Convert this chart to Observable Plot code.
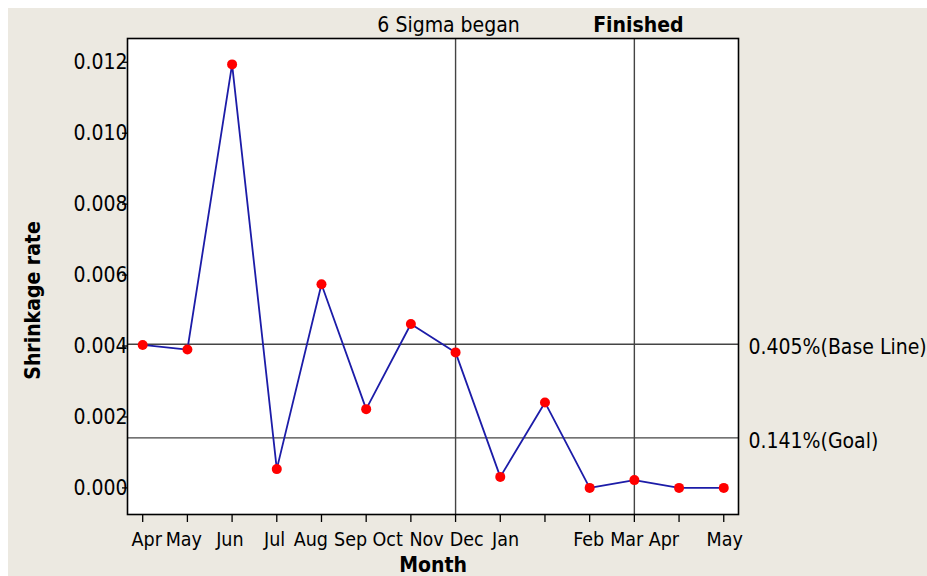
<!DOCTYPE html>
<html>
<head>
<meta charset="utf-8">
<script src="https://cdn.jsdelivr.net/npm/d3@7"></script>
<script src="https://cdn.jsdelivr.net/npm/@observablehq/plot@0.6"></script>
<style>
  html, body { margin: 0; padding: 0; background: #ffffff; }
  #chart { padding: 8px 0 0 8px; width: 919px; height: 568px; }
  #chart svg { display: block; }
</style>
</head>
<body>
<div id="chart"></div>
<script>
// Data
const months = ["Apr","May","Jun","Jul","Aug","Sep","Oct","Nov","Dec","Jan","Feb","Mar","Apr","May"];
const rates = [0.00403, 0.00390, 0.01194, 0.00053, 0.00574, 0.00222, 0.00462, 0.00382, 0.00031, 0.00241, 0.00000, 0.00022, 0.00000, 0.00000];

// Tick labels as drawn (offset from ticks in the original)
const tickLabels = ["Apr","May","Jun","Jul","Aug","Sep","Oct","Nov","Dec","Jan","Feb","Mar","Apr","May"];
const tickLabelPos = [0.09, 0.92, 1.95, 2.95, 3.76, 4.65, 5.48, 6.35, 7.25, 8.12, 9.98, 10.83, 11.66, 13.02];

const yTicks = [0, 0.002, 0.004, 0.006, 0.008, 0.010, 0.012];

// Reference lines
const baseLine = 0.00405;
const goalLine = 0.00141;
const hLines = [baseLine, goalLine];
const hLineLabels = ["0.405%(Base Line)", "0.141%(Goal)"];
const sigmaBeganIdx = 7;
const finishedIdx = 11;

const series = months.map((m, i) => ({i, month: m, rate: rates[i]}));
const xLabels = tickLabels.map((t, k) => ({pos: tickLabelPos[k], text: t}));

const font = "'DejaVu Sans Condensed', 'DejaVu Sans', sans-serif";

const chart = Plot.plot({
  width: 919,
  height: 568,
  marginLeft: 119,
  marginRight: 189,
  marginTop: 30,
  marginBottom: 62,
  x: {domain: [-0.34, 13.33]},
  y: {domain: [-0.00075, 0.01267]},
  style: {background: "#ECE9E1", fontFamily: font, fontSize: "21px", color: "black", overflow: "visible"},
  marks: [
    Plot.frame({fill: "white"}),
    Plot.ruleY(hLines, {stroke: "#444", strokeWidth: 1.4}),
    Plot.ruleX([sigmaBeganIdx, finishedIdx], {stroke: "#444", strokeWidth: 1.4}),
    Plot.line(series, {x: "i", y: "rate", stroke: "#1c1ca8", strokeWidth: 1.8}),
    Plot.dot(series, {x: "i", y: "rate", r: 5, fill: "#ff0000", stroke: "none"}),
    Plot.frame({stroke: "black", strokeWidth: 1.6}),
    Plot.axisY({ticks: yTicks, tickFormat: d3.format(".3f"), tickSize: 5, tickPadding: -5, label: null, fontSize: 21, strokeWidth: 1.3}),
    Plot.axisX({ticks: d3.range(months.length), tickFormat: () => "", tickSize: 8, label: null, strokeWidth: 1.3}),
    Plot.text(xLabels, {x: "pos", text: "text", frameAnchor: "bottom", lineAnchor: "middle", dy: 25, fontSize: 19.5}),
    Plot.text(["Month"], {frameAnchor: "bottom", lineAnchor: "middle", dy: 51, fontWeight: "bold", fontSize: 21}),
    Plot.text(["Shrinkage rate"], {frameAnchor: "left", textAnchor: "middle", rotate: -90, dx: -94, dy: 24, fontWeight: "bold", fontSize: 21}),
    Plot.text(["6 Sigma began"], {x: [sigmaBeganIdx], frameAnchor: "top", lineAnchor: "middle", dy: -13, dx: -7, fontSize: 21}),
    Plot.text(["Finished"], {x: [finishedIdx], frameAnchor: "top", lineAnchor: "middle", dy: -13, dx: 4, fontWeight: "bold", fontSize: 21}),
    Plot.text(hLines, {y: d => d, text: (d, k) => hLineLabels[k], frameAnchor: "right", textAnchor: "start", dx: 10, dy: 3, fontSize: 21})
  ]
});
document.getElementById("chart").appendChild(chart);
</script>
</body>
</html>
